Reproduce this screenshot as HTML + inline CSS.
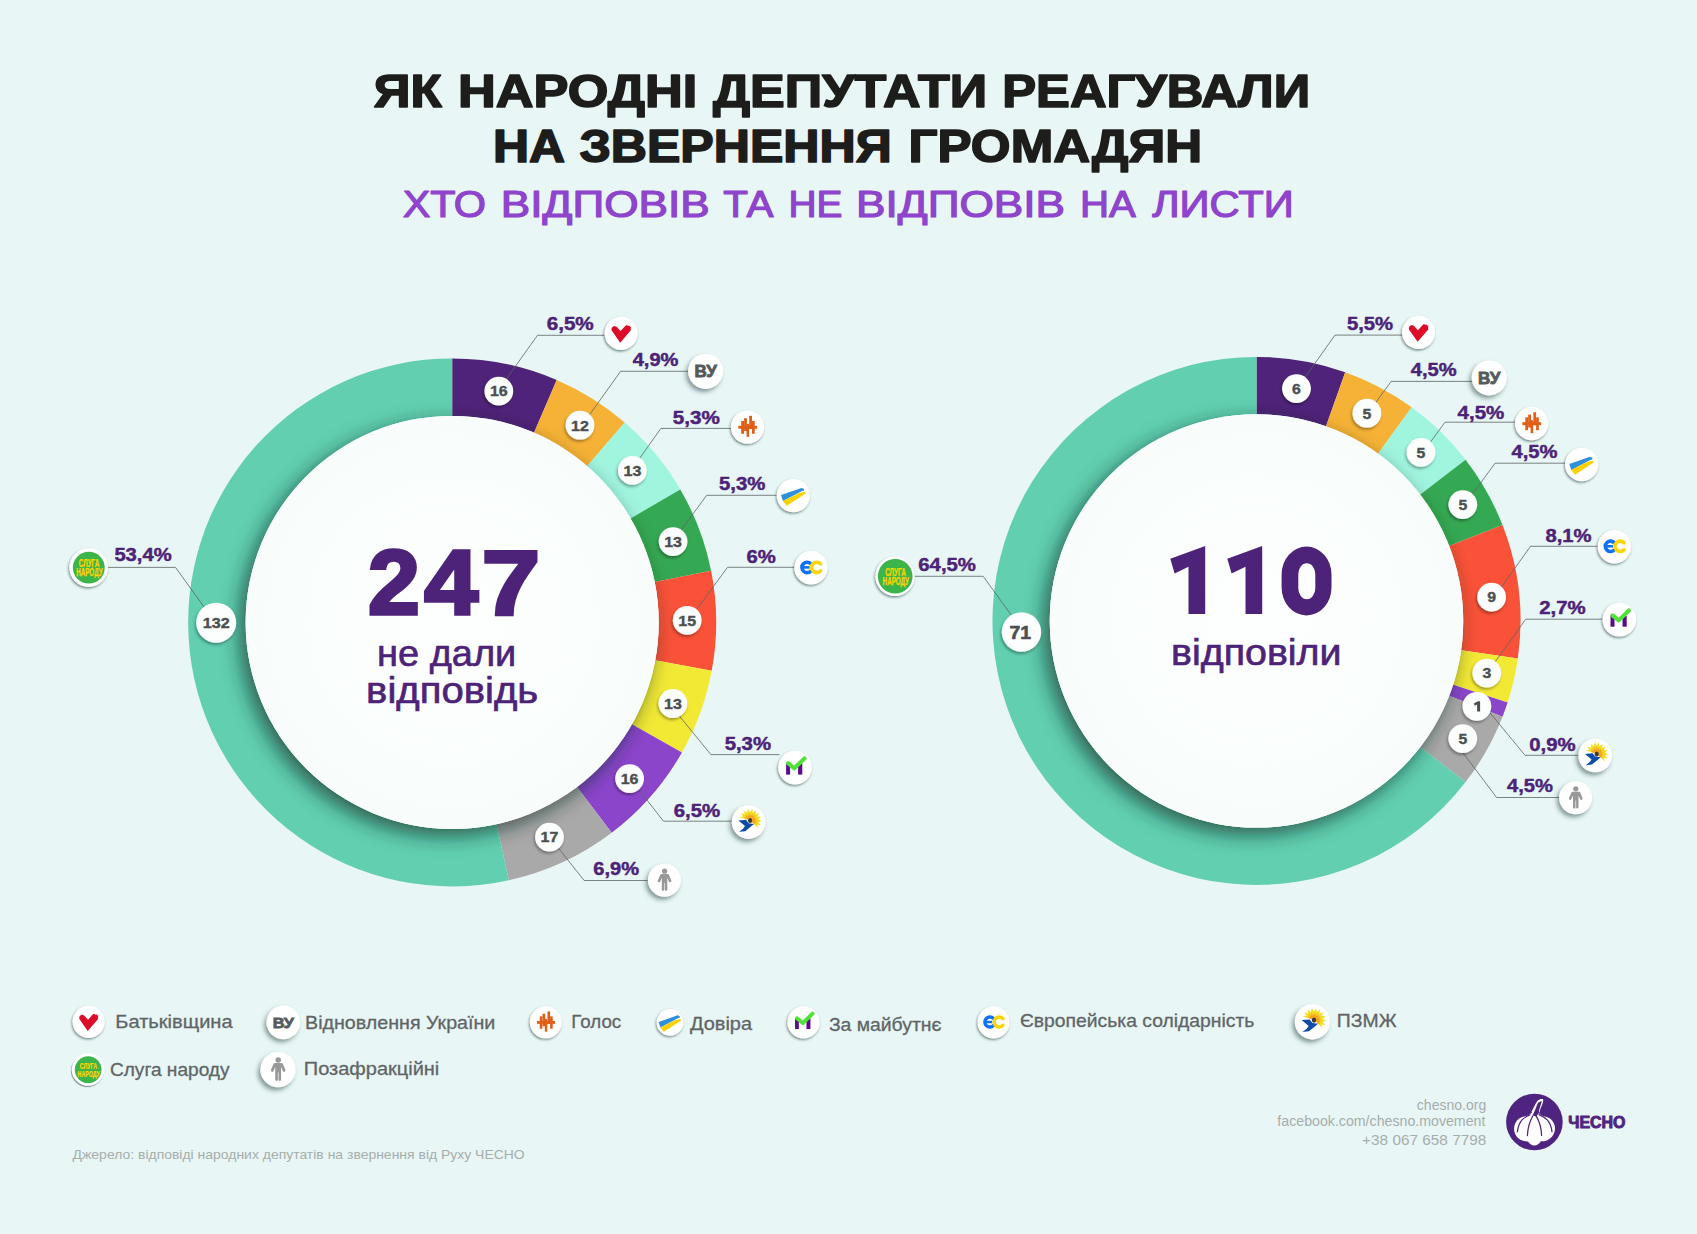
<!DOCTYPE html><html><head><meta charset="utf-8"><title>infographic</title><style>html,body{margin:0;padding:0;background:#e8f6f6;}svg{display:block;font-family:"Liberation Sans", sans-serif;}</style></head><body>
<svg width="1697" height="1234" viewBox="0 0 1697 1234">
<defs><filter id="shBig" x="-30%" y="-30%" width="160%" height="160%"><feDropShadow dx="-6" dy="7" stdDeviation="9.5" flood-color="#0a2a20" flood-opacity="0.68"/></filter><filter id="sh1" x="-50%" y="-50%" width="200%" height="200%"><feDropShadow dx="-1" dy="2" stdDeviation="1.6" flood-color="#000" flood-opacity="0.35"/></filter><filter id="sh2" x="-50%" y="-50%" width="200%" height="200%"><feDropShadow dx="-0.8" dy="1.4" stdDeviation="0.9" flood-color="#1d3a38" flood-opacity="0.6"/></filter><filter id="sh3" x="-50%" y="-50%" width="200%" height="200%"><feDropShadow dx="-2.2" dy="3" stdDeviation="2" flood-color="#1d3a38" flood-opacity="0.5"/></filter><radialGradient id="disc" cx="50%" cy="50%" r="50%"><stop offset="0" stop-color="#fdfffe"/><stop offset="1" stop-color="#f8fdfc"/></radialGradient><clipPath id="clip452"><circle cx="452.2" cy="622.4" r="264"/></clipPath><clipPath id="clip1256"><circle cx="1256.5" cy="620.9" r="264"/></clipPath></defs>
<rect width="1697" height="1234" fill="#e8f6f6"/>
<text x="373.66" y="106.9" font-size="45.6" fill="#1d1d1b" font-weight="bold" textLength="67.94" lengthAdjust="spacingAndGlyphs" stroke="#1d1d1b" stroke-width="1.6" stroke-linejoin="round">ЯК</text>
<text x="458.04" y="106.9" font-size="45.6" fill="#1d1d1b" font-weight="bold" textLength="239.24" lengthAdjust="spacingAndGlyphs" stroke="#1d1d1b" stroke-width="1.6" stroke-linejoin="round">НАРОДНІ</text>
<text x="713" y="106.9" font-size="45.6" fill="#1d1d1b" font-weight="bold" textLength="274.28" lengthAdjust="spacingAndGlyphs" stroke="#1d1d1b" stroke-width="1.6" stroke-linejoin="round">ДЕПУТАТИ</text>
<text x="1002.3" y="106.9" font-size="45.6" fill="#1d1d1b" font-weight="bold" textLength="307.82" lengthAdjust="spacingAndGlyphs" stroke="#1d1d1b" stroke-width="1.6" stroke-linejoin="round">РЕАГУВАЛИ</text>
<text x="492.96" y="162" font-size="45.6" fill="#1d1d1b" font-weight="bold" textLength="72.12" lengthAdjust="spacingAndGlyphs" stroke="#1d1d1b" stroke-width="1.6" stroke-linejoin="round">НА</text>
<text x="579.42" y="162" font-size="45.6" fill="#1d1d1b" font-weight="bold" textLength="312.28" lengthAdjust="spacingAndGlyphs" stroke="#1d1d1b" stroke-width="1.6" stroke-linejoin="round">ЗВЕРНЕННЯ</text>
<text x="908.46" y="162" font-size="45.6" fill="#1d1d1b" font-weight="bold" textLength="293.74" lengthAdjust="spacingAndGlyphs" stroke="#1d1d1b" stroke-width="1.6" stroke-linejoin="round">ГРОМАДЯН</text>
<text x="402.76" y="217.1" font-size="37" fill="#8e44cc" textLength="83.22" lengthAdjust="spacingAndGlyphs" stroke="#8e44cc" stroke-width="1.2" stroke-linejoin="round">ХТО</text>
<text x="500.88" y="217.1" font-size="37" fill="#8e44cc" textLength="208.76" lengthAdjust="spacingAndGlyphs" stroke="#8e44cc" stroke-width="1.2" stroke-linejoin="round">ВІДПОВІВ</text>
<text x="723.26" y="217.1" font-size="37" fill="#8e44cc" textLength="50.34" lengthAdjust="spacingAndGlyphs" stroke="#8e44cc" stroke-width="1.2" stroke-linejoin="round">ТА</text>
<text x="788.54" y="217.1" font-size="37" fill="#8e44cc" textLength="53.94" lengthAdjust="spacingAndGlyphs" stroke="#8e44cc" stroke-width="1.2" stroke-linejoin="round">НЕ</text>
<text x="856.14" y="217.1" font-size="37" fill="#8e44cc" textLength="208.84" lengthAdjust="spacingAndGlyphs" stroke="#8e44cc" stroke-width="1.2" stroke-linejoin="round">ВІДПОВІВ</text>
<text x="1080.04" y="217.1" font-size="37" fill="#8e44cc" textLength="55.88" lengthAdjust="spacingAndGlyphs" stroke="#8e44cc" stroke-width="1.2" stroke-linejoin="round">НА</text>
<text x="1152.24" y="217.1" font-size="37" fill="#8e44cc" textLength="141.62" lengthAdjust="spacingAndGlyphs" stroke="#8e44cc" stroke-width="1.2" stroke-linejoin="round">ЛИСТИ</text>
<g>
<path d="M452.2 358.4A264 264 0 0 1 556.71 379.97L533.35 434.15A205 205 0 0 0 452.2 417.4Z" fill="#4f2379"/>
<path d="M556.71 379.97A264 264 0 0 1 624.74 422.58L586.18 467.24A205 205 0 0 0 533.35 434.15Z" fill="#f6b236"/>
<path d="M624.74 422.58A264 264 0 0 1 680.27 489.43L629.3 519.15A205 205 0 0 0 586.18 467.24Z" fill="#a0f5df"/>
<path d="M680.27 489.43A264 264 0 0 1 711.09 570.69L653.23 582.25A205 205 0 0 0 629.3 519.15Z" fill="#35a853"/>
<path d="M711.09 570.69A264 264 0 0 1 711.72 670.81L653.72 659.99A205 205 0 0 0 653.23 582.25Z" fill="#f95238"/>
<path d="M711.72 670.81A264 264 0 0 1 681.94 752.46L630.6 723.39A205 205 0 0 0 653.72 659.99Z" fill="#f2e935"/>
<path d="M681.94 752.46A264 264 0 0 1 611.69 832.78L576.05 785.76A205 205 0 0 0 630.6 723.39Z" fill="#8b45cb"/>
<path d="M611.69 832.78A264 264 0 0 1 508.84 880.25L496.18 822.63A205 205 0 0 0 576.05 785.76Z" fill="#a9a9a9"/>
<path d="M508.84 880.25A264 264 0 1 1 452.2 358.4L452.2 417.4A205 205 0 1 0 496.18 822.63Z" fill="#61cfb0"/>
</g>
<g clip-path="url(#clip452)"><circle cx="452.2" cy="622.4" r="206.5" fill="#fbfefd" filter="url(#shBig)"/></g>
<circle cx="452.2" cy="622.4" r="206.5" fill="url(#disc)"/>
<g fill="none" stroke="#5e6465" stroke-width="0.8">
<path d="M606 335.3H537.5L504.8 381.17"/>
<path d="M690 371.3H620.6L587.8 417.27"/>
<path d="M733 428.4H660.9L637.71 461.08"/>
<path d="M779 495.3H706.7L679.33 532.42"/>
<path d="M796 567.3H727.5L694.55 612.34"/>
<path d="M779.5 754.6H710.9L676.84 712.93"/>
<path d="M734 821.2H663.5L636.82 787.06"/>
<path d="M650 880.5H584.2L556.38 845.59"/>
<path d="M106 567.4H175.5L206.73 610.65"/>
</g>
<circle cx="498.8" cy="391.1" r="14.4" fill="#fbfefd" filter="url(#sh1)"/>
<text x="498.8" y="396.4" font-size="14.2" fill="#4b4f4f" font-weight="bold" text-anchor="middle" textLength="17.8" lengthAdjust="spacingAndGlyphs" stroke="#4b4f4f" stroke-width="0.35">16</text>
<circle cx="580" cy="425.2" r="14.4" fill="#fbfefd" filter="url(#sh1)"/>
<text x="580" y="430.5" font-size="14.2" fill="#4b4f4f" font-weight="bold" text-anchor="middle" textLength="17.8" lengthAdjust="spacingAndGlyphs" stroke="#4b4f4f" stroke-width="0.35">12</text>
<circle cx="632.4" cy="470.4" r="14.4" fill="#fbfefd" filter="url(#sh1)"/>
<text x="632.4" y="475.7" font-size="14.2" fill="#4b4f4f" font-weight="bold" text-anchor="middle" textLength="17.8" lengthAdjust="spacingAndGlyphs" stroke="#4b4f4f" stroke-width="0.35">13</text>
<circle cx="673.1" cy="541.6" r="14.4" fill="#fbfefd" filter="url(#sh1)"/>
<text x="673.1" y="546.9" font-size="14.2" fill="#4b4f4f" font-weight="bold" text-anchor="middle" textLength="17.8" lengthAdjust="spacingAndGlyphs" stroke="#4b4f4f" stroke-width="0.35">13</text>
<circle cx="687.2" cy="620.3" r="14.4" fill="#fbfefd" filter="url(#sh1)"/>
<text x="687.2" y="625.6" font-size="14.2" fill="#4b4f4f" font-weight="bold" text-anchor="middle" textLength="17.8" lengthAdjust="spacingAndGlyphs" stroke="#4b4f4f" stroke-width="0.35">15</text>
<circle cx="672.9" cy="703.5" r="14.4" fill="#fbfefd" filter="url(#sh1)"/>
<text x="672.9" y="708.8" font-size="14.2" fill="#4b4f4f" font-weight="bold" text-anchor="middle" textLength="17.8" lengthAdjust="spacingAndGlyphs" stroke="#4b4f4f" stroke-width="0.35">13</text>
<circle cx="629.6" cy="778.6" r="14.4" fill="#fbfefd" filter="url(#sh1)"/>
<text x="629.6" y="783.9" font-size="14.2" fill="#4b4f4f" font-weight="bold" text-anchor="middle" textLength="17.8" lengthAdjust="spacingAndGlyphs" stroke="#4b4f4f" stroke-width="0.35">16</text>
<circle cx="549.5" cy="837.1" r="14.4" fill="#fbfefd" filter="url(#sh1)"/>
<text x="549.5" y="842.4" font-size="14.2" fill="#4b4f4f" font-weight="bold" text-anchor="middle" textLength="17.8" lengthAdjust="spacingAndGlyphs" stroke="#4b4f4f" stroke-width="0.35">17</text>
<circle cx="216.2" cy="622.7" r="20" fill="#fbfefd" filter="url(#sh1)"/>
<text x="216.2" y="628" font-size="14.2" fill="#4b4f4f" font-weight="bold" text-anchor="middle" textLength="27" lengthAdjust="spacingAndGlyphs" stroke="#4b4f4f" stroke-width="0.35">132</text>
<text x="546.68" y="330.3" font-size="17.6" fill="#4d2379" font-weight="bold" textLength="47.06" lengthAdjust="spacingAndGlyphs" stroke="#4d2379" stroke-width="0.45" stroke-linejoin="round">6,5%</text>
<g transform="translate(621.1 333.3) scale(1.0)"><circle cx="0" cy="0" r="16.6" fill="#fff" filter="url(#sh2)"/><path d="M-0.9 9.4L-9.7 -3.2L-9.3 -5.6L-7.2 -7.4L-4.6 -6.6L-0.6 -2.2L4.2 -7.4L5.4 -8.4L6.6 -7.6L8.4 -7.6L10 -5.6L9.4 -4.2L10 -3.2Z" fill="#dc0b28"/></g>
<text x="632.66" y="366.4" font-size="17.6" fill="#4d2379" font-weight="bold" textLength="45.76" lengthAdjust="spacingAndGlyphs" stroke="#4d2379" stroke-width="0.45" stroke-linejoin="round">4,9%</text>
<g transform="translate(705.6 371.4) scale(1.0)"><circle cx="0" cy="0" r="17.5" fill="#fff" filter="url(#sh3)"/><text x="0" y="6" font-size="16.2" fill="#555b5c" font-weight="bold" text-anchor="middle" textLength="22.2" lengthAdjust="spacingAndGlyphs" stroke="#555b5c" stroke-width="0.85">ВУ</text></g>
<text x="672.76" y="423.5" font-size="17.6" fill="#4d2379" font-weight="bold" textLength="46.98" lengthAdjust="spacingAndGlyphs" stroke="#4d2379" stroke-width="0.45" stroke-linejoin="round">5,3%</text>
<g transform="translate(747.5 427.1) scale(1.0)"><circle cx="0" cy="0" r="16.7" fill="#fff" filter="url(#sh2)"/><g fill="#e05e17"><rect x="-9.2" y="-1.3" width="18.8" height="2.9"/><rect x="-6.3" y="-6.2" width="2.8" height="12.9"/><rect x="-3.4" y="-8.9" width="2.8" height="12.9"/><rect x="-1.0" y="-3.3" width="2.6" height="13.0"/><rect x="1.75" y="-11.3" width="2.75" height="13.1"/><rect x="4.5" y="-6.2" width="2.7" height="12.9"/></g></g>
<text x="719" y="490.4" font-size="17.6" fill="#4d2379" font-weight="bold" textLength="46.24" lengthAdjust="spacingAndGlyphs" stroke="#4d2379" stroke-width="0.45" stroke-linejoin="round">5,3%</text>
<g transform="translate(793.4 495.6) scale(1.0)"><circle cx="0" cy="0" r="16.7" fill="#fff" filter="url(#sh2)"/><path d="M-12.4 -0.5L8.2 -7.7L10.6 -6.7L10.6 -5.1L8.6 -4.6L-10.4 5.5Z" fill="#2f8fd8"/><path d="M-10.4 5.5L4.8 -2.2L10.8 -3.8L12.6 -2.4L-6.7 10.2Z" fill="#fdd000"/></g>
<text x="746.42" y="562.9" font-size="17.6" fill="#4d2379" font-weight="bold" textLength="29.24" lengthAdjust="spacingAndGlyphs" stroke="#4d2379" stroke-width="0.45" stroke-linejoin="round">6%</text>
<g transform="translate(811 567.8) scale(1.0)"><circle cx="0" cy="0" r="16.7" fill="#fff" filter="url(#sh2)"/><path d="M0.2 -3.6A5.2 5.2 0 1 0 0.2 2.8" fill="none" stroke="#0f72f5" stroke-width="3.6"/><path d="M-8 -0.4H-1.4" stroke="#0f72f5" stroke-width="2.6"/><path d="M9.6 -3.9A5.2 5.2 0 1 0 9.6 3.1" fill="none" stroke="#fdd400" stroke-width="3.6" stroke-linecap="round"/></g>
<text x="724.68" y="750.4" font-size="17.6" fill="#4d2379" font-weight="bold" textLength="46.32" lengthAdjust="spacingAndGlyphs" stroke="#4d2379" stroke-width="0.45" stroke-linejoin="round">5,3%</text>
<g transform="translate(795 767.6) scale(1.0)"><circle cx="0" cy="0" r="16.9" fill="#fff" filter="url(#sh2)"/><rect x="-8.9" y="-4.5" width="4" height="11.5" fill="#5a0a8c"/><rect x="3.1" y="-4" width="4.2" height="11" fill="#5a0a8c"/><path d="M-6.9 -4.4L-0.7 0.7L9.5 -9.2" fill="none" stroke="#4fe236" stroke-width="4.1" stroke-linecap="round" stroke-linejoin="round"/></g>
<text x="673.76" y="817" font-size="17.6" fill="#4d2379" font-weight="bold" textLength="46.4" lengthAdjust="spacingAndGlyphs" stroke="#4d2379" stroke-width="0.45" stroke-linejoin="round">6,5%</text>
<g transform="translate(748.6 822.1) scale(1.0)"><circle cx="0" cy="0" r="16.8" fill="#fff" filter="url(#sh3)"/><path d="M-9.53 -5.18L-5.72 -5.48L-7.58 -8.82L-3.91 -7.77L-4.47 -11.54L-1.41 -9.27L-0.61 -13.01L1.46 -9.8L3.51 -13.02L4.34 -9.29L7.39 -11.59L6.85 -7.81L10.51 -8.9L8.69 -5.54L12.5 -5.28L9.62 -2.78L13.09 -1.2L9.51 0.14L12.22 2.84L8.4 2.84L9.98 6.31L1.5 -1.6Z" fill="#f4dc1e"/><path d="M-3.01 -3.24L-4.74 -5.2L-2.18 -4.69L-3.13 -7.12L-0.9 -5.76L-0.96 -8.37L0.67 -6.33L1.5 -8.8L2.33 -6.33L3.96 -8.37L3.9 -5.76L6.13 -7.12L5.18 -4.69L7.74 -5.2L6.01 -3.24L8.59 -2.85L6.3 -1.6L8.59 -0.35L6.01 0.04L7.74 2L5.18 1.49L1.5 -1.6Z" fill="#f7a524"/><path d="M-10.2 -1.6L-2.6 -2.3L0 1.1L5.5 1.8L2.9 4L-3.3 9.1L-9.5 9.7L-5.5 6.6L-3.6 4Z" fill="#0f4ca8"/><ellipse cx="1.5" cy="-1.6" rx="2.1" ry="2.5" fill="#3a3d3a"/></g>
<text x="593.34" y="875.4" font-size="17.6" fill="#4d2379" font-weight="bold" textLength="45.66" lengthAdjust="spacingAndGlyphs" stroke="#4d2379" stroke-width="0.45" stroke-linejoin="round">6,9%</text>
<g transform="translate(664.4 880.2) scale(1.0)"><circle cx="0" cy="0" r="16.5" fill="#fff" filter="url(#sh3)"/><g fill="#999"><circle cx="0.2" cy="-9" r="2.6"/><path d="M-3 -6.1H3.4Q4.2 -6.1 4.6 -5.2L6.9 0.2Q7.2 1.6 6.1 2.1Q5 2.4 4.5 1.2L2.9 -2.4V9.6Q2.9 10.6 1.7 10.6Q0.5 10.6 0.5 9.6V2.6H-0.1V9.6Q-0.1 10.6 -1.3 10.6Q-2.6 10.6 -2.6 9.6V-2.4L-4.2 1.2Q-4.7 2.4 -5.8 2.1Q-6.9 1.6 -6.6 0.2L-4.2 -5.2Q-3.8 -6.1 -3 -6.1Z"/></g></g>
<text x="114.42" y="560.7" font-size="17.6" fill="#4d2379" font-weight="bold" textLength="57.16" lengthAdjust="spacingAndGlyphs" stroke="#4d2379" stroke-width="0.45" stroke-linejoin="round">53,4%</text>
<g transform="translate(88.6 567.6) scale(1.0)"><circle cx="0" cy="0" r="19.3" fill="#fff" filter="url(#sh2)"/><circle cx="0.2" cy="0.1" r="15.9" fill="#3bb54a"/><text x="0.5" y="-0.5" font-size="10.4" fill="#ffd500" font-weight="bold" text-anchor="middle" textLength="20.6" lengthAdjust="spacingAndGlyphs" stroke="#ffd500" stroke-width="0.25">СЛУГА</text><text x="0.8" y="8.3" font-size="10.2" fill="#ffd500" font-weight="bold" text-anchor="middle" textLength="26.4" lengthAdjust="spacingAndGlyphs" stroke="#ffd500" stroke-width="0.25">НАРОДУ</text></g>
<text transform="translate(394.05 614.1) scale(1.018 1)" x="0" y="0" font-size="91.6" font-weight="bold" text-anchor="middle" fill="#4d2379" stroke="#4d2379" stroke-width="3.4" stroke-linejoin="miter">2</text>
<text transform="translate(451.1 614.1) scale(1.057 1)" x="0" y="0" font-size="91.6" font-weight="bold" text-anchor="middle" fill="#4d2379" stroke="#4d2379" stroke-width="3.4" stroke-linejoin="miter">4</text>
<text transform="translate(511.05 614.1) scale(1.146 1)" x="0" y="0" font-size="91.6" font-weight="bold" text-anchor="middle" fill="#4d2379" stroke="#4d2379" stroke-width="3.4" stroke-linejoin="miter">7</text>
<text x="377.12" y="665.5" font-size="36" fill="#4d2379" textLength="139.18" lengthAdjust="spacingAndGlyphs" stroke="#4d2379" stroke-width="0.65" stroke-linejoin="round">не дали</text>
<text x="366.12" y="703" font-size="36" fill="#4d2379" textLength="172.1" lengthAdjust="spacingAndGlyphs" stroke="#4d2379" stroke-width="0.65" stroke-linejoin="round">відповідь</text>
<g>
<path d="M1256.5 356.9A264 264 0 0 1 1345.22 372.25L1325.46 427.63A205.2 205.2 0 0 0 1256.5 415.7Z" fill="#4f2379"/>
<path d="M1345.22 372.25A264 264 0 0 1 1411.68 407.32L1377.11 454.89A205.2 205.2 0 0 0 1325.46 427.63Z" fill="#f6b236"/>
<path d="M1411.68 407.32A264 264 0 0 1 1465.56 459.69L1419 495.6A205.2 205.2 0 0 0 1377.11 454.89Z" fill="#a0f5df"/>
<path d="M1465.56 459.69A264 264 0 0 1 1502.51 525.12L1447.72 546.45A205.2 205.2 0 0 0 1419 495.6Z" fill="#35a853"/>
<path d="M1502.51 525.12A264 264 0 0 1 1517.81 658.47L1459.61 650.1A205.2 205.2 0 0 0 1447.72 546.45Z" fill="#f95238"/>
<path d="M1517.81 658.47A264 264 0 0 1 1507.58 702.48L1451.66 684.31A205.2 205.2 0 0 0 1459.61 650.1Z" fill="#f2e935"/>
<path d="M1507.58 702.48A264 264 0 0 1 1502.51 716.68L1447.72 695.35A205.2 205.2 0 0 0 1451.66 684.31Z" fill="#8b45cb"/>
<path d="M1502.51 716.68A264 264 0 0 1 1465.56 782.11L1419 746.2A205.2 205.2 0 0 0 1447.72 695.35Z" fill="#a9a9a9"/>
<path d="M1465.56 782.11A264 264 0 1 1 1256.5 356.9L1256.5 415.7A205.2 205.2 0 1 0 1419 746.2Z" fill="#61cfb0"/>
</g>
<g clip-path="url(#clip1256)"><circle cx="1256.5" cy="620.9" r="206.7" fill="#fbfefd" filter="url(#shBig)"/></g>
<circle cx="1256.5" cy="620.9" r="206.7" fill="url(#disc)"/>
<g fill="none" stroke="#5e6465" stroke-width="0.8">
<path d="M1404 335.1H1335L1303.01 380.18"/>
<path d="M1474 381.4H1391.1L1373.67 405.45"/>
<path d="M1517 422.2H1445L1428.25 445.14"/>
<path d="M1567 463.2H1495.1L1470.44 496.83"/>
<path d="M1600 546.3H1530.5L1499.6 589.67"/>
<path d="M1605 619.2H1525.7L1493.09 664.77"/>
<path d="M1580 755.3H1525L1487.52 709.84"/>
<path d="M1561 797.5H1496.6L1460.6 749.6"/>
<path d="M912 576.3H983.2L1013.83 618.65"/>
</g>
<circle cx="1296.5" cy="388.6" r="14.4" fill="#fbfefd" filter="url(#sh1)"/>
<text x="1296.5" y="393.9" font-size="14.2" fill="#4b4f4f" font-weight="bold" text-anchor="middle" textLength="8.8" lengthAdjust="spacingAndGlyphs" stroke="#4b4f4f" stroke-width="0.35">6</text>
<circle cx="1366.9" cy="413.2" r="14.4" fill="#fbfefd" filter="url(#sh1)"/>
<text x="1366.9" y="418.5" font-size="14.2" fill="#4b4f4f" font-weight="bold" text-anchor="middle" textLength="8.8" lengthAdjust="spacingAndGlyphs" stroke="#4b4f4f" stroke-width="0.35">5</text>
<circle cx="1421" cy="452.4" r="14.4" fill="#fbfefd" filter="url(#sh1)"/>
<text x="1421" y="457.7" font-size="14.2" fill="#4b4f4f" font-weight="bold" text-anchor="middle" textLength="8.8" lengthAdjust="spacingAndGlyphs" stroke="#4b4f4f" stroke-width="0.35">5</text>
<circle cx="1462.8" cy="504.6" r="14.4" fill="#fbfefd" filter="url(#sh1)"/>
<text x="1462.8" y="509.9" font-size="14.2" fill="#4b4f4f" font-weight="bold" text-anchor="middle" textLength="8.8" lengthAdjust="spacingAndGlyphs" stroke="#4b4f4f" stroke-width="0.35">5</text>
<circle cx="1491.6" cy="597.1" r="14.4" fill="#fbfefd" filter="url(#sh1)"/>
<text x="1491.6" y="602.4" font-size="14.2" fill="#4b4f4f" font-weight="bold" text-anchor="middle" textLength="8.8" lengthAdjust="spacingAndGlyphs" stroke="#4b4f4f" stroke-width="0.35">9</text>
<circle cx="1486.8" cy="673.1" r="14.4" fill="#fbfefd" filter="url(#sh1)"/>
<text x="1486.8" y="678.4" font-size="14.2" fill="#4b4f4f" font-weight="bold" text-anchor="middle" textLength="8.8" lengthAdjust="spacingAndGlyphs" stroke="#4b4f4f" stroke-width="0.35">3</text>
<circle cx="1476.9" cy="706.3" r="14.4" fill="#fbfefd" filter="url(#sh1)"/>
<path transform="translate(1476.9 706.3)" fill="#4b4f4f" d="M3.2 -5V5.3H0.2V-1.7L-2.2 -0.6L-3 -2.8L1 -5Z"/>
<circle cx="1462.8" cy="738.6" r="14.4" fill="#fbfefd" filter="url(#sh1)"/>
<text x="1462.8" y="743.9" font-size="14.2" fill="#4b4f4f" font-weight="bold" text-anchor="middle" textLength="8.8" lengthAdjust="spacingAndGlyphs" stroke="#4b4f4f" stroke-width="0.35">5</text>
<circle cx="1021.5" cy="632" r="19.7" fill="#fbfefd" filter="url(#sh1)"/>
<text x="1020.2" y="638.7" font-size="18.4" fill="#4b4f4f" font-weight="bold" text-anchor="middle" textLength="21.6" lengthAdjust="spacingAndGlyphs" stroke="#4b4f4f" stroke-width="0.6">71</text>
<text x="1346.92" y="330.3" font-size="17.6" fill="#4d2379" font-weight="bold" textLength="46.16" lengthAdjust="spacingAndGlyphs" stroke="#4d2379" stroke-width="0.45" stroke-linejoin="round">5,5%</text>
<g transform="translate(1418.5 332.4) scale(1.0)"><circle cx="0" cy="0" r="16.6" fill="#fff" filter="url(#sh2)"/><path d="M-0.9 9.4L-9.7 -3.2L-9.3 -5.6L-7.2 -7.4L-4.6 -6.6L-0.6 -2.2L4.2 -7.4L5.4 -8.4L6.6 -7.6L8.4 -7.6L10 -5.6L9.4 -4.2L10 -3.2Z" fill="#dc0b28"/></g>
<text x="1410.74" y="376.3" font-size="17.6" fill="#4d2379" font-weight="bold" textLength="45.76" lengthAdjust="spacingAndGlyphs" stroke="#4d2379" stroke-width="0.45" stroke-linejoin="round">4,5%</text>
<g transform="translate(1489.2 377.9) scale(1.0)"><circle cx="0" cy="0" r="17.5" fill="#fff" filter="url(#sh3)"/><text x="0" y="6" font-size="16.2" fill="#555b5c" font-weight="bold" text-anchor="middle" textLength="22.2" lengthAdjust="spacingAndGlyphs" stroke="#555b5c" stroke-width="0.85">ВУ</text></g>
<text x="1457.58" y="419.4" font-size="17.6" fill="#4d2379" font-weight="bold" textLength="46.66" lengthAdjust="spacingAndGlyphs" stroke="#4d2379" stroke-width="0.45" stroke-linejoin="round">4,5%</text>
<g transform="translate(1531.6 423.5) scale(1.0)"><circle cx="0" cy="0" r="16.7" fill="#fff" filter="url(#sh2)"/><g fill="#e05e17"><rect x="-9.2" y="-1.3" width="18.8" height="2.9"/><rect x="-6.3" y="-6.2" width="2.8" height="12.9"/><rect x="-3.4" y="-8.9" width="2.8" height="12.9"/><rect x="-1.0" y="-3.3" width="2.6" height="13.0"/><rect x="1.75" y="-11.3" width="2.75" height="13.1"/><rect x="4.5" y="-6.2" width="2.7" height="12.9"/></g></g>
<text x="1511.5" y="458.3" font-size="17.6" fill="#4d2379" font-weight="bold" textLength="46" lengthAdjust="spacingAndGlyphs" stroke="#4d2379" stroke-width="0.45" stroke-linejoin="round">4,5%</text>
<g transform="translate(1581.7 464.5) scale(1.0)"><circle cx="0" cy="0" r="16.7" fill="#fff" filter="url(#sh2)"/><path d="M-12.4 -0.5L8.2 -7.7L10.6 -6.7L10.6 -5.1L8.6 -4.6L-10.4 5.5Z" fill="#2f8fd8"/><path d="M-10.4 5.5L4.8 -2.2L10.8 -3.8L12.6 -2.4L-6.7 10.2Z" fill="#fdd000"/></g>
<text x="1545.5" y="542.2" font-size="17.6" fill="#4d2379" font-weight="bold" textLength="46.08" lengthAdjust="spacingAndGlyphs" stroke="#4d2379" stroke-width="0.45" stroke-linejoin="round">8,1%</text>
<g transform="translate(1614.4 546.7) scale(1.0)"><circle cx="0" cy="0" r="16.7" fill="#fff" filter="url(#sh2)"/><path d="M0.2 -3.6A5.2 5.2 0 1 0 0.2 2.8" fill="none" stroke="#0f72f5" stroke-width="3.6"/><path d="M-8 -0.4H-1.4" stroke="#0f72f5" stroke-width="2.6"/><path d="M9.6 -3.9A5.2 5.2 0 1 0 9.6 3.1" fill="none" stroke="#fdd400" stroke-width="3.6" stroke-linecap="round"/></g>
<text x="1539.26" y="613.9" font-size="17.6" fill="#4d2379" font-weight="bold" textLength="46.4" lengthAdjust="spacingAndGlyphs" stroke="#4d2379" stroke-width="0.45" stroke-linejoin="round">2,7%</text>
<g transform="translate(1619.4 619.7) scale(1.0)"><circle cx="0" cy="0" r="16.9" fill="#fff" filter="url(#sh2)"/><rect x="-8.9" y="-4.5" width="4" height="11.5" fill="#5a0a8c"/><rect x="3.1" y="-4" width="4.2" height="11" fill="#5a0a8c"/><path d="M-6.9 -4.4L-0.7 0.7L9.5 -9.2" fill="none" stroke="#4fe236" stroke-width="4.1" stroke-linecap="round" stroke-linejoin="round"/></g>
<text x="1529.26" y="751.3" font-size="17.6" fill="#4d2379" font-weight="bold" textLength="46.24" lengthAdjust="spacingAndGlyphs" stroke="#4d2379" stroke-width="0.45" stroke-linejoin="round">0,9%</text>
<g transform="translate(1595.2 755.5) scale(1.0)"><circle cx="0" cy="0" r="16.8" fill="#fff" filter="url(#sh3)"/><path d="M-9.53 -5.18L-5.72 -5.48L-7.58 -8.82L-3.91 -7.77L-4.47 -11.54L-1.41 -9.27L-0.61 -13.01L1.46 -9.8L3.51 -13.02L4.34 -9.29L7.39 -11.59L6.85 -7.81L10.51 -8.9L8.69 -5.54L12.5 -5.28L9.62 -2.78L13.09 -1.2L9.51 0.14L12.22 2.84L8.4 2.84L9.98 6.31L1.5 -1.6Z" fill="#f4dc1e"/><path d="M-3.01 -3.24L-4.74 -5.2L-2.18 -4.69L-3.13 -7.12L-0.9 -5.76L-0.96 -8.37L0.67 -6.33L1.5 -8.8L2.33 -6.33L3.96 -8.37L3.9 -5.76L6.13 -7.12L5.18 -4.69L7.74 -5.2L6.01 -3.24L8.59 -2.85L6.3 -1.6L8.59 -0.35L6.01 0.04L7.74 2L5.18 1.49L1.5 -1.6Z" fill="#f7a524"/><path d="M-10.2 -1.6L-2.6 -2.3L0 1.1L5.5 1.8L2.9 4L-3.3 9.1L-9.5 9.7L-5.5 6.6L-3.6 4Z" fill="#0f4ca8"/><ellipse cx="1.5" cy="-1.6" rx="2.1" ry="2.5" fill="#3a3d3a"/></g>
<text x="1507" y="791.9" font-size="17.6" fill="#4d2379" font-weight="bold" textLength="45.84" lengthAdjust="spacingAndGlyphs" stroke="#4d2379" stroke-width="0.45" stroke-linejoin="round">4,5%</text>
<g transform="translate(1575.6 797.8) scale(1.0)"><circle cx="0" cy="0" r="16.5" fill="#fff" filter="url(#sh3)"/><g fill="#999"><circle cx="0.2" cy="-9" r="2.6"/><path d="M-3 -6.1H3.4Q4.2 -6.1 4.6 -5.2L6.9 0.2Q7.2 1.6 6.1 2.1Q5 2.4 4.5 1.2L2.9 -2.4V9.6Q2.9 10.6 1.7 10.6Q0.5 10.6 0.5 9.6V2.6H-0.1V9.6Q-0.1 10.6 -1.3 10.6Q-2.6 10.6 -2.6 9.6V-2.4L-4.2 1.2Q-4.7 2.4 -5.8 2.1Q-6.9 1.6 -6.6 0.2L-4.2 -5.2Q-3.8 -6.1 -3 -6.1Z"/></g></g>
<text x="918.34" y="570.7" font-size="17.6" fill="#4d2379" font-weight="bold" textLength="57.58" lengthAdjust="spacingAndGlyphs" stroke="#4d2379" stroke-width="0.45" stroke-linejoin="round">64,5%</text>
<g transform="translate(895 576.2) scale(1.0)"><circle cx="0" cy="0" r="19.7" fill="#fff" filter="url(#sh2)"/><circle cx="0.2" cy="0.1" r="17.3" fill="#3bb54a"/><text x="0.5" y="-0.5" font-size="10.4" fill="#ffd500" font-weight="bold" text-anchor="middle" textLength="20.6" lengthAdjust="spacingAndGlyphs" stroke="#ffd500" stroke-width="0.25">СЛУГА</text><text x="0.8" y="8.3" font-size="10.2" fill="#ffd500" font-weight="bold" text-anchor="middle" textLength="26.4" lengthAdjust="spacingAndGlyphs" stroke="#ffd500" stroke-width="0.25">НАРОДУ</text></g>
<path fill="#4d2379" fill-rule="evenodd" d="M1170.3 558.8L1205.2 546V614H1188.5V566.8L1174.6 573.6ZM1227.3 558.8L1262.2 546V614H1245.5V566.8L1231.6 573.6ZM1281.6 574.54A24.95 27.94 0 0 1 1331.5 574.54V587.46A24.95 27.94 0 0 1 1281.6 587.46ZM1298.3 574.25A8.5 11.05 0 0 1 1315.3 574.25V588.15A8.5 11.05 0 0 1 1298.3 588.15Z"/>
<text x="1171.04" y="664.7" font-size="36" fill="#4d2379" textLength="170.58" lengthAdjust="spacingAndGlyphs" stroke="#4d2379" stroke-width="0.65" stroke-linejoin="round">відповіли</text>
<g transform="translate(88.6 1021.8) scale(0.97)"><circle cx="0" cy="0" r="16.6" fill="#fff" filter="url(#sh2)"/><path d="M-0.9 9.4L-9.7 -3.2L-9.3 -5.6L-7.2 -7.4L-4.6 -6.6L-0.6 -2.2L4.2 -7.4L5.4 -8.4L6.6 -7.6L8.4 -7.6L10 -5.6L9.4 -4.2L10 -3.2Z" fill="#dc0b28"/></g>
<text x="115.28" y="1028.3" font-size="18.6" fill="#5f6566" textLength="117.3" lengthAdjust="spacingAndGlyphs" stroke="#5f6566" stroke-width="0.3" stroke-linejoin="round">Батьківщина</text>
<g transform="translate(283.3 1022.4) scale(0.96)"><circle cx="0" cy="0" r="17.5" fill="#fff" filter="url(#sh3)"/><text x="0" y="6" font-size="16.2" fill="#555b5c" font-weight="bold" text-anchor="middle" textLength="22.2" lengthAdjust="spacingAndGlyphs" stroke="#555b5c" stroke-width="0.85">ВУ</text></g>
<text x="305.1" y="1029.2" font-size="18.6" fill="#5f6566" textLength="190.22" lengthAdjust="spacingAndGlyphs" stroke="#5f6566" stroke-width="0.3" stroke-linejoin="round">Відновлення України</text>
<g transform="translate(545.8 1022.3) scale(0.96)"><circle cx="0" cy="0" r="16.7" fill="#fff" filter="url(#sh2)"/><g fill="#e05e17"><rect x="-9.2" y="-1.3" width="18.8" height="2.9"/><rect x="-6.3" y="-6.2" width="2.8" height="12.9"/><rect x="-3.4" y="-8.9" width="2.8" height="12.9"/><rect x="-1.0" y="-3.3" width="2.6" height="13.0"/><rect x="1.75" y="-11.3" width="2.75" height="13.1"/><rect x="4.5" y="-6.2" width="2.7" height="12.9"/></g></g>
<text x="571.36" y="1028.3" font-size="18.6" fill="#5f6566" textLength="49.8" lengthAdjust="spacingAndGlyphs" stroke="#5f6566" stroke-width="0.3" stroke-linejoin="round">Голос</text>
<g transform="translate(670 1022.4) scale(0.92)"><circle cx="0" cy="0" r="14.5" fill="#fff" filter="url(#sh2)"/><path d="M-12.4 -0.5L8.2 -7.7L10.6 -6.7L10.6 -5.1L8.6 -4.6L-10.4 5.5Z" fill="#2f8fd8"/><path d="M-10.4 5.5L4.8 -2.2L10.8 -3.8L12.6 -2.4L-6.7 10.2Z" fill="#fdd000"/></g>
<text x="690" y="1029.8" font-size="18.6" fill="#5f6566" textLength="62.08" lengthAdjust="spacingAndGlyphs" stroke="#5f6566" stroke-width="0.3" stroke-linejoin="round">Довіра</text>
<g transform="translate(803.5 1022.4) scale(0.95)"><circle cx="0" cy="0" r="16.9" fill="#fff" filter="url(#sh2)"/><rect x="-8.9" y="-4.5" width="4" height="11.5" fill="#5a0a8c"/><rect x="3.1" y="-4" width="4.2" height="11" fill="#5a0a8c"/><path d="M-6.9 -4.4L-0.7 0.7L9.5 -9.2" fill="none" stroke="#4fe236" stroke-width="4.1" stroke-linecap="round" stroke-linejoin="round"/></g>
<text x="828.92" y="1030.7" font-size="18.6" fill="#5f6566" textLength="112.48" lengthAdjust="spacingAndGlyphs" stroke="#5f6566" stroke-width="0.3" stroke-linejoin="round">За майбутнє</text>
<g transform="translate(993.6 1022.4) scale(0.96)"><circle cx="0" cy="0" r="16.7" fill="#fff" filter="url(#sh2)"/><path d="M0.2 -3.6A5.2 5.2 0 1 0 0.2 2.8" fill="none" stroke="#0f72f5" stroke-width="3.6"/><path d="M-8 -0.4H-1.4" stroke="#0f72f5" stroke-width="2.6"/><path d="M9.6 -3.9A5.2 5.2 0 1 0 9.6 3.1" fill="none" stroke="#fdd400" stroke-width="3.6" stroke-linecap="round"/></g>
<text x="1019.92" y="1027.4" font-size="18.6" fill="#5f6566" textLength="234.48" lengthAdjust="spacingAndGlyphs" stroke="#5f6566" stroke-width="0.3" stroke-linejoin="round">Європейська солідарність</text>
<g transform="translate(1312.4 1021.8) scale(1.05)"><circle cx="0" cy="0" r="16.8" fill="#fff" filter="url(#sh3)"/><path d="M-9.53 -5.18L-5.72 -5.48L-7.58 -8.82L-3.91 -7.77L-4.47 -11.54L-1.41 -9.27L-0.61 -13.01L1.46 -9.8L3.51 -13.02L4.34 -9.29L7.39 -11.59L6.85 -7.81L10.51 -8.9L8.69 -5.54L12.5 -5.28L9.62 -2.78L13.09 -1.2L9.51 0.14L12.22 2.84L8.4 2.84L9.98 6.31L1.5 -1.6Z" fill="#f4dc1e"/><path d="M-3.01 -3.24L-4.74 -5.2L-2.18 -4.69L-3.13 -7.12L-0.9 -5.76L-0.96 -8.37L0.67 -6.33L1.5 -8.8L2.33 -6.33L3.96 -8.37L3.9 -5.76L6.13 -7.12L5.18 -4.69L7.74 -5.2L6.01 -3.24L8.59 -2.85L6.3 -1.6L8.59 -0.35L6.01 0.04L7.74 2L5.18 1.49L1.5 -1.6Z" fill="#f7a524"/><path d="M-10.2 -1.6L-2.6 -2.3L0 1.1L5.5 1.8L2.9 4L-3.3 9.1L-9.5 9.7L-5.5 6.6L-3.6 4Z" fill="#0f4ca8"/><ellipse cx="1.5" cy="-1.6" rx="2.1" ry="2.5" fill="#3a3d3a"/></g>
<text x="1336.86" y="1027.4" font-size="18.6" fill="#5f6566" textLength="59.72" lengthAdjust="spacingAndGlyphs" stroke="#5f6566" stroke-width="0.3" stroke-linejoin="round">ПЗМЖ</text>
<g transform="translate(88 1069.6) scale(0.84)"><circle cx="0" cy="0" r="19.3" fill="#fff" filter="url(#sh2)"/><circle cx="0.2" cy="0.1" r="15.9" fill="#3bb54a"/><text x="0.5" y="-0.5" font-size="10.4" fill="#ffd500" font-weight="bold" text-anchor="middle" textLength="20.6" lengthAdjust="spacingAndGlyphs" stroke="#ffd500" stroke-width="0.25">СЛУГА</text><text x="0.8" y="8.3" font-size="10.2" fill="#ffd500" font-weight="bold" text-anchor="middle" textLength="26.4" lengthAdjust="spacingAndGlyphs" stroke="#ffd500" stroke-width="0.25">НАРОДУ</text></g>
<text x="109.92" y="1076" font-size="18.6" fill="#5f6566" textLength="119.66" lengthAdjust="spacingAndGlyphs" stroke="#5f6566" stroke-width="0.3" stroke-linejoin="round">Слуга народу</text>
<g transform="translate(278 1069.6) scale(1.07)"><circle cx="0" cy="0" r="16.5" fill="#fff" filter="url(#sh3)"/><g fill="#999"><circle cx="0.2" cy="-9" r="2.6"/><path d="M-3 -6.1H3.4Q4.2 -6.1 4.6 -5.2L6.9 0.2Q7.2 1.6 6.1 2.1Q5 2.4 4.5 1.2L2.9 -2.4V9.6Q2.9 10.6 1.7 10.6Q0.5 10.6 0.5 9.6V2.6H-0.1V9.6Q-0.1 10.6 -1.3 10.6Q-2.6 10.6 -2.6 9.6V-2.4L-4.2 1.2Q-4.7 2.4 -5.8 2.1Q-6.9 1.6 -6.6 0.2L-4.2 -5.2Q-3.8 -6.1 -3 -6.1Z"/></g></g>
<text x="303.78" y="1074.9" font-size="18.6" fill="#5f6566" textLength="135.54" lengthAdjust="spacingAndGlyphs" stroke="#5f6566" stroke-width="0.3" stroke-linejoin="round">Позафракційні</text>
<text x="72.58" y="1158.8" font-size="13.4" fill="#a6aeac" textLength="452.16" lengthAdjust="spacingAndGlyphs">Джерело: відповіді народних депутатів на звернення від Руху ЧЕСНО</text>
<text x="1416.84" y="1109.5" font-size="14.2" fill="#a6aeac" textLength="69.48" lengthAdjust="spacingAndGlyphs">chesno.org</text>
<text x="1277.34" y="1126" font-size="14.2" fill="#a6aeac" textLength="208.08" lengthAdjust="spacingAndGlyphs">facebook.com/chesno.movement</text>
<text x="1362.1" y="1144.8" font-size="14.2" fill="#a6aeac" textLength="124.22" lengthAdjust="spacingAndGlyphs">+38 067 658 7798</text>
<g transform="translate(1534.4 1122)">
<circle r="28.3" fill="#4e2480"/>
<path d="M-3.2 -9.2C-1.5 -13 1.5 -19 3.2 -21.3C5 -22.6 7.6 -23.4 8.8 -22.6C9.2 -20.5 8 -17.5 6.8 -15C5.4 -12 4.8 -9.6 6 -7.8C8 -6.4 12.5 -5.6 15.6 -3.4C19.4 -0.6 21.2 4.2 20.4 8.6C19.6 13.4 16 17.6 11.2 19C9.4 19.4 7.6 19.4 6.4 19.2C5 21.6 2.6 23.4 0 23.4C-2.8 23.4 -5.2 21.6 -6.4 19.4C-8 19.6 -10 19.4 -12 18.6C-16.4 16.8 -19.6 13 -20.2 8.4C-20.8 4 -19 -0.8 -15.2 -3.4C-12 -5.6 -6.2 -6.2 -3.2 -9.2Z" fill="#fff"/>
<path d="M-1.8 -6.4C0 -10 2 -15.6 3.6 -19.2L7.4 -21.3C6.8 -17.4 4.2 -12.6 4.7 -9.2L1.8 -5.6Z" fill="#4e2480"/>
<g fill="none" stroke="#4e2480" stroke-width="1.25" stroke-linecap="round"><path d="M-1.6 -6C-4.6 -1 -6.6 6 -7 13.6"/><path d="M1.6 -6.4C4.8 -1 7 6 7.2 13.4"/><path d="M-4.4 -7.2C-9.4 -4.8 -15.4 -2.6 -17 9.6"/><path d="M4.6 -7.4C9.6 -5 16 -2.8 17.6 9.6"/><path d="M-9.6 -6.4C-7.6 -6.8 -4.8 -7.8 -3.2 -9.6"/><path d="M5.2 -9C6.4 -7.6 8.8 -6.6 11 -6.2"/></g>
</g>
<text x="1568.2" y="1127.9" font-size="16" fill="#4e2480" font-weight="bold" textLength="57.2" lengthAdjust="spacingAndGlyphs" stroke="#4e2480" stroke-width="0.9">ЧЕСНО</text>
</svg></body></html>
